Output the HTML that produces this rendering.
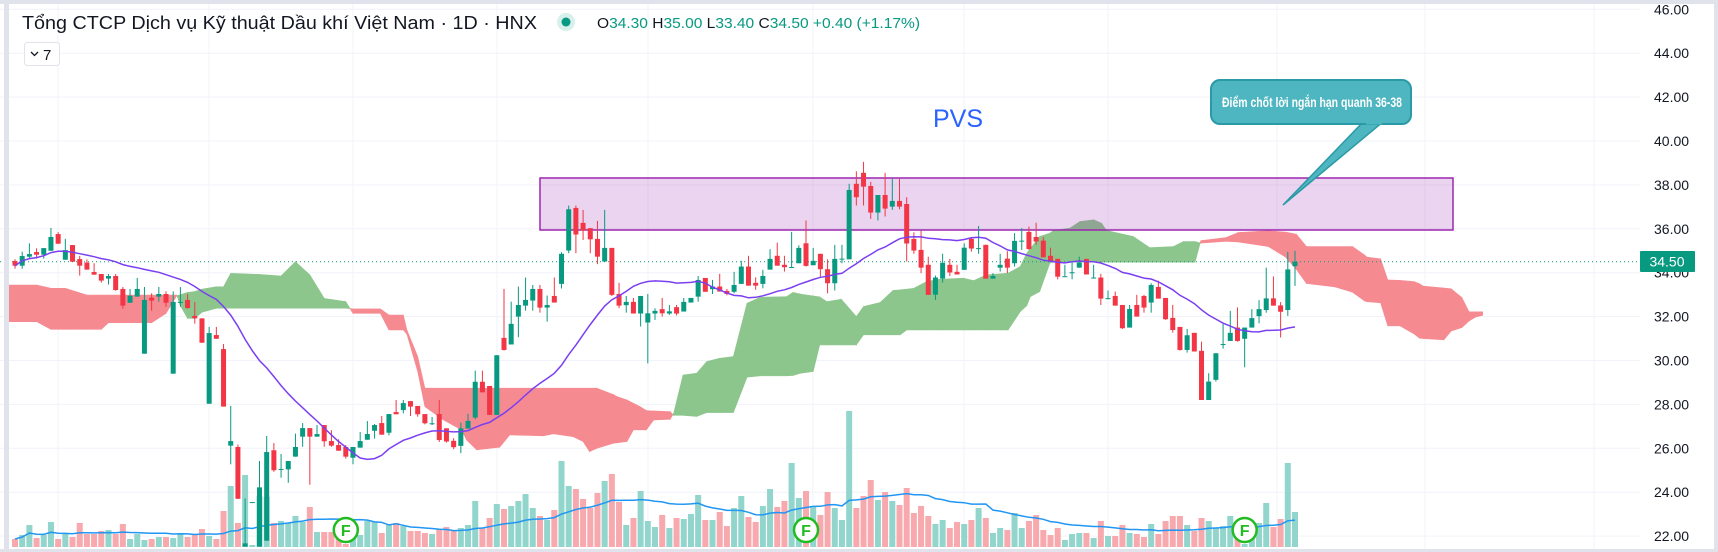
<!DOCTYPE html>
<html><head><meta charset="utf-8"><style>
html,body{margin:0;padding:0;background:#fff;}
svg{display:block;font-family:"Liberation Sans","Noto Sans CJK SC",sans-serif;}
</style></head><body>
<svg id="chart" width="1718" height="552" viewBox="0 0 1718 552">
<rect x="0" y="0" width="1718" height="552" fill="#fff"/>
<g id="grid"></g>
<g id="cloud"></g>
<g id="vols"></g>
<path id="volma" fill="none" stroke="#2196f3" stroke-width="1.5"/>
<rect x="540" y="178" width="913" height="52" fill="rgba(156,39,176,0.2)" stroke="#9c27b0" stroke-width="1.5"/>
<line x1="0" y1="261.7" x2="1640" y2="261.7" stroke="#089981" stroke-width="1" stroke-dasharray="1,3"/>
<g id="candles"></g>
<path id="ma" fill="none" stroke="#7b3ff2" stroke-width="1.5"/>
<g id="axis"></g>
<g>
<rect x="1640" y="251" width="55" height="21" fill="#089981" rx="1"/>
<text x="1667" y="266.5" text-anchor="middle" font-size="14" fill="#fff">34.50</text>
</g>
<g>
<path d="M1364 121 L1283 205 L1384 121 Z" fill="#4db6c1" stroke="#2a9aa6" stroke-width="1.5"/>
<rect x="1211" y="80" width="200" height="44" rx="9" fill="#4db6c1" stroke="#2a9aa6" stroke-width="2"/>
<path d="M1366 123 L1382 123" stroke="#4db6c1" stroke-width="3"/>
<text x="1312" y="107" text-anchor="middle" font-size="14" font-weight="bold" fill="#fff" textLength="180" lengthAdjust="spacingAndGlyphs">Điểm chốt lời ngắn hạn quanh 36-38</text>
</g>
<text x="958" y="127" text-anchor="middle" font-size="25" fill="#2962ff">PVS</text>
<g id="fmarks"></g>
<rect x="0" y="0" width="1718" height="4" fill="#e0e3eb"/>
<rect x="4" y="0" width="5" height="552" fill="#e0e3eb"/>
<rect x="1714" y="0" width="4" height="552" fill="#e0e3eb"/>
<rect x="0" y="549" width="1718" height="3" fill="#e0e3eb"/>
<text x="22" y="29" font-size="18" fill="#131722" textLength="515" lengthAdjust="spacingAndGlyphs">Tổng CTCP Dịch vụ Kỹ thuật Dầu khí Việt Nam · 1D · HNX</text>
<circle cx="566" cy="22" r="9" fill="#d7f0ec"/>
<circle cx="566" cy="22" r="4.5" fill="#089981"/>
<text x="597" y="28" font-size="15" fill="#089981" textLength="323" lengthAdjust="spacingAndGlyphs"><tspan fill="#131722">O</tspan>34.30 <tspan fill="#131722">H</tspan>35.00 <tspan fill="#131722">L</tspan>33.40 <tspan fill="#131722">C</tspan>34.50 +0.40 (+1.17%)</text>
<g>
<rect x="24.5" y="42.5" width="35" height="23" rx="3" fill="#fff" stroke="#e0e3eb"/>
<path d="M31 52 L34.5 55.5 L38 52" fill="none" stroke="#131722" stroke-width="1.3"/>
<text x="43" y="60" font-size="15" fill="#131722">7</text>
</g>
</svg>
<script>
const opens=[34.53,34.32,34.73,34.94,34.82,35.00,35.76,34.59,35.26,34.62,34.46,34.03,33.94,33.73,33.85,33.26,32.63,32.91,30.31,32.86,32.91,33.03,29.40,32.63,32.76,32.03,31.92,28.03,31.16,30.52,
26.12,26.06,21.52,23.52,21.52,21.79,25.91,25.03,25.04,25.62,26.53,26.92,26.53,27.06,26.33,26.15,26.06,25.57,26.03,26.39,26.80,27.15,26.71,27.65,27.74,28.15,27.93,27.56,27.13,27.56,
26.91,26.34,26.11,26.90,27.40,29.03,28.84,27.52,31.03,30.73,32.00,32.50,32.73,33.26,32.41,32.94,33.49,35.01,36.95,36.27,36.03,35.54,34.51,35.13,33.03,32.52,32.67,32.14,31.73,32.14,
32.34,32.14,32.43,32.23,32.64,32.91,33.76,33.25,33.37,33.17,33.13,33.49,34.28,33.54,33.49,34.14,34.77,34.36,34.25,34.43,35.34,34.34,34.86,34.16,33.52,34.61,34.61,38.05,38.55,37.95,
36.74,37.54,37.01,37.27,37.13,35.54,35.04,34.36,33.00,33.73,34.36,34.04,34.13,35.54,35.08,35.27,33.73,34.23,34.64,34.43,35.43,35.86,35.63,35.46,34.77,34.63,33.83,34.01,34.23,34.63,
33.77,33.78,32.83,32.94,32.53,31.50,32.53,32.94,32.64,33.35,32.85,31.94,31.53,30.48,31.26,30.44,28.20,29.12,30.74,30.89,31.50,30.99,31.50,32.02,32.30,32.83,32.51,32.30,34.30];
const highs=[34.61,34.96,35.34,35.11,35.12,36.04,35.85,35.54,35.26,34.76,34.61,34.43,33.94,33.94,33.94,33.35,33.26,33.76,33.35,33.06,33.35,33.15,33.15,33.35,33.03,32.67,31.92,31.53,31.53,30.75,
27.93,26.17,23.72,23.55,25.42,26.56,26.24,25.74,25.42,26.67,27.15,26.92,27.06,27.06,26.83,26.41,26.15,26.06,26.74,27.24,27.11,27.47,27.56,28.20,28.20,28.15,27.93,27.56,27.43,28.20,
26.91,26.46,27.17,27.57,29.54,29.54,28.84,30.24,33.26,32.68,33.37,33.78,33.44,33.44,32.96,33.78,34.93,37.06,37.06,36.86,36.03,36.36,36.86,35.13,33.54,32.94,32.85,32.94,33.03,32.38,
32.85,32.53,32.53,32.85,32.85,33.85,33.76,33.67,33.95,33.26,34.04,34.54,34.77,33.79,34.13,35.07,35.37,34.77,35.86,35.25,36.38,35.13,34.86,34.61,35.27,35.27,38.05,38.62,39.05,38.14,
37.54,38.55,38.27,38.27,37.44,35.84,35.92,34.73,33.87,34.86,34.63,34.36,35.34,35.62,36.13,35.27,33.98,34.86,34.98,35.80,36.03,36.10,36.28,35.62,35.14,34.63,34.36,34.46,34.73,34.63,
34.36,33.95,33.19,33.14,32.53,32.53,32.99,32.99,33.52,33.64,32.85,32.53,31.53,31.44,31.26,30.86,29.42,30.33,31.66,32.26,32.42,31.50,32.34,32.75,34.23,33.83,32.66,34.95,35.00];
const lows=[34.18,34.18,34.64,34.64,34.64,35.00,35.32,34.59,34.50,33.87,34.14,33.91,33.55,33.46,33.18,32.36,32.63,32.91,30.31,32.27,32.68,32.45,29.40,32.45,32.36,31.68,30.81,28.03,30.99,27.90,
25.27,23.70,21.52,23.52,21.52,21.79,24.93,24.66,24.43,25.62,26.07,24.34,26.53,26.07,26.07,25.89,25.53,25.27,26.03,26.39,26.44,26.62,26.59,27.55,27.59,27.47,27.44,27.09,27.06,26.29,
26.26,25.96,25.78,26.90,27.32,28.55,27.52,27.52,30.45,30.73,31.06,32.27,32.27,32.18,31.77,32.64,33.28,34.89,34.89,35.49,34.89,34.39,34.51,32.94,32.38,32.18,32.14,31.55,29.87,31.85,
32.00,32.08,32.05,32.23,32.64,32.68,33.13,33.03,33.14,32.97,33.06,33.49,33.41,33.22,33.29,34.14,34.32,34.05,34.25,34.43,34.28,34.34,33.82,33.06,33.19,34.43,34.61,37.06,37.06,36.45,
36.38,36.56,36.86,36.89,34.51,34.86,33.98,32.99,32.76,33.55,33.85,33.92,34.13,34.96,34.86,33.73,33.73,34.05,33.98,34.28,35.04,35.04,35.27,34.70,34.51,33.70,33.84,33.70,34.23,33.92,
33.75,32.53,32.79,32.50,31.44,31.50,32.00,32.18,32.18,32.82,31.85,31.27,30.45,30.36,30.41,28.20,28.20,29.04,30.54,30.89,30.86,29.69,31.50,31.69,32.18,32.50,31.05,32.03,33.40];
const closes=[34.32,34.76,34.85,34.82,35.12,35.63,35.32,35.03,34.50,34.32,34.14,33.91,33.64,33.85,33.21,32.50,32.95,33.26,32.76,32.73,33.03,32.63,32.67,32.67,32.39,31.92,30.81,31.25,30.99,27.90,
26.33,23.70,21.67,23.55,24.22,25.83,25.00,25.06,25.42,26.06,26.92,26.53,26.65,26.32,26.12,25.89,25.62,26.06,26.33,26.65,27.06,26.62,27.56,27.55,28.06,27.90,27.55,27.14,27.14,26.38,
26.31,26.05,26.91,27.25,29.03,28.55,27.52,30.24,30.48,31.67,32.53,32.76,33.26,32.41,32.53,32.64,34.86,36.89,35.74,35.92,35.52,34.73,35.13,32.99,32.50,32.67,32.14,32.94,32.15,32.26,
32.15,32.24,32.14,32.67,32.85,33.67,33.13,33.37,33.14,33.03,33.44,34.28,33.41,33.41,33.85,34.63,34.32,34.25,34.26,35.13,34.31,34.54,34.16,33.52,34.63,34.64,37.77,37.44,37.92,36.74,
37.54,36.92,37.27,37.01,35.33,35.01,34.23,32.99,33.78,34.45,34.01,33.92,35.14,35.10,35.12,33.73,33.85,34.36,34.23,35.45,35.46,35.08,35.42,34.70,34.51,33.82,33.84,34.02,34.46,33.92,
33.78,32.82,32.84,32.50,31.47,32.35,32.00,32.41,33.44,32.82,31.88,31.39,30.48,31.15,30.41,28.20,29.04,30.33,30.75,31.26,30.89,31.50,31.93,32.34,32.83,32.50,32.22,34.15,34.50];
const volumes=[8,12,22,9,12,25,8,13,10,24,13,13,16,17,13,23,8,13,7,8,10,10,9,13,10,13,18,11,8,36,61,24,72,2,51,50,24,26,24,31,25,40,15,15,15,9,3,13,12,26,25,14,22,24,21,16,16,14,13,18,
20,17,19,22,46,19,29,43,38,41,46,53,39,31,27,37,86,61,58,48,39,54,66,73,45,22,29,56,26,20,32,19,29,28,33,52,27,27,35,21,39,51,30,25,41,58,40,46,84,49,56,40,32,55,39,27,136,39,51,67,47,55,
46,42,59,34,41,31,23,27,19,25,23,27,39,29,14,19,17,34,19,26,32,17,12,19,7,13,14,14,9,26,11,11,22,14,13,10,23,13,26,31,31,22,16,29,26,19,21,31,10,3,24,24,44,20,28,84,35];
const cloudIdx=[-1,3,5,7,10,12,13,19,21,22.5,23,24,25,26,28,29,30,34,37,39,41,43,46,47,50.8,52,54,54.5,56,57,59.6,62.1,62.8,64.2,67.4,68.8,73.5,74.9,77.6,79,79.9,80.9,83.2,83.7,85.1,86,86.9,87.8,88.8,91.1,91.6,92.9,94.8,96.2,98,99.9,101.8,103.6,107.3,108.2,109.2,111,111.9,112.9,114.9,117,118,120.3,122.1,123.1,124,125,126.8,128.6,131.9,133.3,135.1,138.1,139.8,140.7,141.2,142.5,143.9,144.4,146.7,148.1,150,151.1,151.8,155.5,157.8,161.1,162.5,164.1,164.9,168.4,170.1,174.3,176.7,178.2,179.6,183.6,186,187.7,188,189.9,190.9,192.6,194.6,195.3,195.8,198.7,199.7,201.2,202.2,203.1,204.1];
const spanA=[31.77,31.77,31.42,31.42,31.42,31.42,31.72,31.72,32.15,32.95,33.0,33.1,33.14,33.25,33.36,33.36,33.97,33.92,33.85,34.50,33.90,32.83,32.68,32.15,32.15,31.39,31.39,31.2,29.5,27.90,27.29,26.84,26.38,25.93,26.05,26.61,26.57,26.66,26.53,26.31,25.85,26.0,26.23,26.25,26.31,26.84,26.84,26.84,27.29,27.32,27.6,29.34,29.42,29.95,30.1,30.18,32.61,32.88,32.91,33.10,33.03,32.94,32.9,32.68,32.79,32.00,32.46,32.64,33.19,33.22,33.25,33.29,33.60,33.70,33.75,33.64,33.90,33.98,34.28,34.89,35.1,35.65,35.8,35.92,36.03,36.33,36.41,36.25,35.92,35.65,35.14,35.19,35.42,35.42,35.35,35.43,35.4,35.19,34.71,34.15,33.51,33.35,33.11,32.71,32.68,32.63,31.58,31.58,31.2,31.02,31.0,30.94,31.34,31.50,31.8,31.98,32.06];
const spanB=[33.44,33.44,33.29,33.29,32.98,32.98,32.98,32.98,32.98,32.98,32.5,31.92,31.92,32.2,32.38,32.38,32.38,32.38,32.38,32.38,32.38,32.38,32.38,32.35,32.35,32.07,32.07,31.39,30.18,28.74,28.74,28.74,28.74,28.74,28.74,28.74,28.74,28.74,28.74,28.74,28.74,28.74,28.45,28.36,28.2,28.05,27.90,27.72,27.70,27.67,27.5,27.5,27.45,27.63,27.63,27.63,29.24,29.3,29.3,29.32,29.42,29.50,30.71,30.71,30.71,30.71,31.17,31.17,31.17,31.17,31.39,31.39,31.39,31.39,31.39,31.39,31.39,31.39,32.23,32.5,32.91,33.14,34.43,34.48,34.48,34.48,34.48,34.48,34.48,34.48,34.48,34.48,34.48,34.48,35.46,35.6,35.83,35.91,35.85,35.75,35.19,35.19,35.19,34.8,34.71,34.63,33.67,33.65,33.59,33.5,33.39,33.3,33.27,32.87,32.22,32.22,32.22];
const priceTicks=[46,44,42,40,38,36,34,32,30,28,26,24,22];
const priceTickLabels=["46.00","44.00","42.00","40.00","38.00","36.00","34.00","32.00","30.00","28.00","26.00","24.00","22.00"];
const vGridX=[58,209,353,497,648,813,964,1108,1277,1425,1594];
const dividendIdx=[46,110,171];

const NS="http://www.w3.org/2000/svg";
const xOf=i=>15+i*7.191;
const yOf=v=>272.7+(34-v)*21.95;
const yVol=v=>547-v;
function mk(tag,attrs,parent){const e=document.createElementNS(NS,tag);for(const k in attrs)e.setAttribute(k,attrs[k]);parent.appendChild(e);return e;}

const grid=document.getElementById('grid');
priceTicks.forEach(v=>{const l=mk('line',{x1:0,x2:1640,y1:yOf(v),y2:yOf(v),stroke:'#f0f3fa','stroke-width':1},grid);

});
vGridX.forEach(x=>{const l=mk('line',{x1:x,x2:x,y1:0,y2:549,stroke:'#f0f3fa','stroke-width':1},grid);

});

const axis=document.getElementById('axis');
priceTicks.forEach((v,k)=>{const t=mk('text',{x:1654,y:yOf(v)+5,'font-size':14,fill:'#131722'},axis);t.textContent=priceTickLabels[k];

});

const cloud=document.getElementById('cloud');
const GREEN_C='#8cc68c',RED_C='#f68a91';
function quad(x1,a1,b1,x2,a2,b2,col){const p=mk('polygon',{points:`${x1},${yOf(a1)} ${x2},${yOf(a2)} ${x2},${yOf(b2)} ${x1},${yOf(b1)}`,fill:col,stroke:col,'stroke-width':0.6},cloud);

}
for(let k=0;k<cloudIdx.length-1;k++){
  const x1=xOf(cloudIdx[k]),x2=xOf(cloudIdx[k+1]);
  const a1=spanA[k],a2=spanA[k+1],b1=spanB[k],b2=spanB[k+1];
  const d1=a1-b1,d2=a2-b2;
  if(d1*d2<0){const t=d1/(d1-d2);const xm=x1+(x2-x1)*t,am=a1+(a2-a1)*t;
    quad(x1,a1,b1,xm,am,am,d1>0?GREEN_C:RED_C);quad(xm,am,am,x2,a2,b2,d2>0?GREEN_C:RED_C);}
  else quad(x1,a1,b1,x2,a2,b2,(d1+d2)>=0?GREEN_C:RED_C);
}

const vg=document.getElementById('vols');
volumes.forEach((v,i)=>{const up=closes[i]>=opens[i];
  const r=mk('rect',{x:xOf(i)-3,y:yVol(v),width:6,height:v,fill:up?'#92d5cc':'#f7a9ae'},vg);
  
  });
function sma(arr,n){return arr.map((_,i)=>{const s=Math.max(0,i-n+1);let t=0;for(let j=s;j<=i;j++)t+=arr[j];return t/(i-s+1);});}
const vma=sma(volumes,20);
document.getElementById('volma').setAttribute('d',vma.map((v,i)=>(i?'L':'M')+xOf(i).toFixed(1)+' '+yVol(v).toFixed(1)).join(' '));
const pma=sma(closes,20);
document.getElementById('ma').setAttribute('d',pma.map((v,i)=>(i?'L':'M')+xOf(i).toFixed(1)+' '+yOf(v).toFixed(1)).join(' '));

const cg=document.getElementById('candles');
opens.forEach((o,i)=>{const c=closes[i];const up=c>=o;const col=up?'#089981':'#f23645';const x=xOf(i);
  const w=mk('line',{x1:x,x2:x,y1:yOf(highs[i]),y2:yOf(lows[i]),stroke:col,'stroke-width':1},cg);
  
  
  const top=yOf(Math.max(o,c)),bot=yOf(Math.min(o,c));
  const b=mk('rect',{x:x-2.5,y:top,width:5,height:Math.max(1,bot-top),fill:col},cg);
  
  });

const fm=document.getElementById('fmarks');
dividendIdx.forEach(i=>{const g=mk('g',{},fm);
  
  
  mk('circle',{cx:xOf(i),cy:530,r:12,fill:'#fff',stroke:'#22bb22','stroke-width':2.5},g);
  const t=mk('text',{x:xOf(i),y:536,'text-anchor':'middle','font-size':16,'font-weight':'bold',fill:'#22bb22'},g);t.textContent='F';});
</script>
</body></html>
